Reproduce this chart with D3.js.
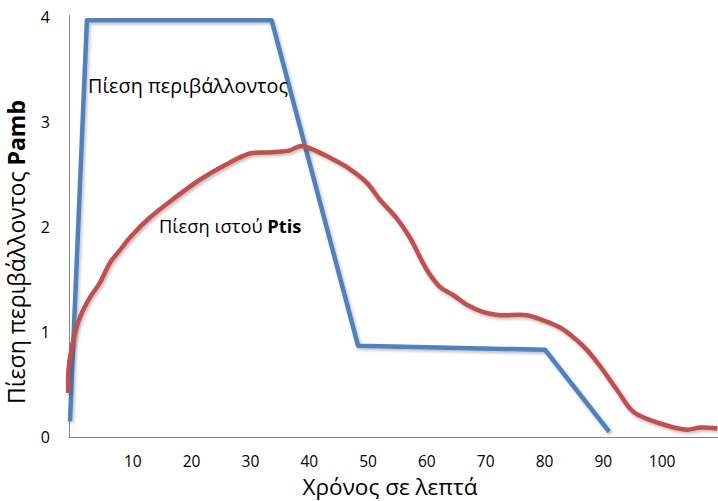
<!DOCTYPE html>
<html><head><meta charset="utf-8">
<script src="https://cdn.jsdelivr.net/npm/d3@7"></script>
<style>html,body{margin:0;padding:0;background:#fff;}svg{display:block;}</style>
</head><body>
<svg id="c" width="718" height="501"></svg>
<script>
// Ambient pressure (blue)
const ambTime = [-0.68, 2.2, 33.6, 48.3, 80.1, 91.0];
const ambValue = [0.15, 3.97, 3.97, 0.87, 0.83, 0.05];
// Tissue pressure (red)
const tisTime = [-0.97, -0.93, -0.12, 1.02, 2.72, 4.42, 6.12, 7.82, 9.52, 12.9, 17.2, 21.4, 25.7, 29.9, 33.3, 36.7, 38.4, 40.1, 43.5, 46.4, 49.8, 52.0, 54.9, 57.1, 60.0, 62.2, 64.5, 66.8, 69.6, 72.4, 77.0, 79.8, 82.7, 84.9, 87.2, 89.5, 92.3, 95.1, 98.0, 101.4, 104.3, 106.5, 109.4];
const tisValue = [0.42, 0.64, 0.92, 1.14, 1.33, 1.47, 1.66, 1.78, 1.90, 2.09, 2.28, 2.45, 2.59, 2.70, 2.71, 2.73, 2.77, 2.75, 2.66, 2.57, 2.42, 2.26, 2.08, 1.90, 1.59, 1.43, 1.35, 1.26, 1.19, 1.16, 1.16, 1.11, 1.04, 0.95, 0.83, 0.67, 0.45, 0.24, 0.16, 0.10, 0.07, 0.09, 0.08];
const xTicks = [10, 20, 30, 40, 50, 60, 70, 80, 90, 100];
const yTicks = [0, 1, 2, 3, 4];
const xTitle = "Χρόνος σε λεπτά";
const yTitle = "Πίεση περιβάλλοντος ";
const yTitleBold = "Pamb";
const ambLabel = "Πίεση περιβάλλοντος";
const tisLabel = "Πίεση ιστού ";
const tisLabelBold = "Ptis";

const svg = d3.select("#c");
const font = "'Open Sans', 'Noto Sans', sans-serif";
const x = d3.scaleLinear().domain([-0.85, 109.5]).range([69, 718]);
const y = d3.scaleLinear().domain([0, 4]).range([437, 17]);

const defs = svg.append("defs");
const f = defs.append("filter").attr("id", "sh").attr("x", "-10%").attr("y", "-10%").attr("width", "120%").attr("height", "120%");
f.append("feDropShadow").attr("dx", 1.5).attr("dy", 2).attr("stdDeviation", 1.6).attr("flood-color", "#000").attr("flood-opacity", 0.25);

// axes lines
svg.append("line").attr("x1", 69.5).attr("x2", 69.5).attr("y1", 15).attr("y2", 437.5).attr("stroke", "#868686").attr("stroke-width", 1);
svg.append("line").attr("x1", 69).attr("x2", 718).attr("y1", 437.5).attr("y2", 437.5).attr("stroke", "#868686").attr("stroke-width", 1);

// y tick labels
svg.append("g").selectAll("text").data(yTicks).join("text")
  .attr("x", 50).attr("y", d => y(d) + 6)
  .attr("text-anchor", "end").attr("font-family", font).attr("font-size", 16).attr("fill", "#000")
  .text(d => d);
// x tick labels
svg.append("g").selectAll("text").data(xTicks).join("text")
  .attr("x", d => x(d)).attr("y", 467)
  .attr("text-anchor", "middle").attr("font-family", font).attr("font-size", 15.5).attr("fill", "#000")
  .text(d => d);

// titles
svg.append("text").attr("x", 390).attr("y", 495).attr("text-anchor", "middle")
  .attr("font-family", font).attr("font-size", 21.5).attr("textLength", 175).attr("lengthAdjust", "spacingAndGlyphs")
  .attr("fill", "#000").text(xTitle);
const yt = svg.append("text").attr("transform", "translate(25,252) rotate(-90)").attr("text-anchor", "middle")
  .attr("font-family", font).attr("font-size", 23).attr("fill", "#000");
yt.append("tspan").text(yTitle);
yt.append("tspan").attr("font-weight", "bold").text(yTitleBold);

// lines
const lineAmb = d3.line().x((d, i) => x(ambTime[i])).y((d, i) => y(ambValue[i]));
const lineTis = d3.line().x((d, i) => x(tisTime[i])).y((d, i) => y(tisValue[i])).curve(d3.curveCatmullRom.alpha(0.5));
svg.append("path").attr("d", lineAmb(ambTime)).attr("fill", "none").attr("stroke", "#4F81BD")
  .attr("stroke-width", 4.5).attr("stroke-linejoin", "round").attr("filter", "url(#sh)");
svg.append("path").attr("d", lineTis(tisTime)).attr("fill", "none").attr("stroke", "#C0504D")
  .attr("stroke-width", 4.5).attr("stroke-linejoin", "round").attr("filter", "url(#sh)");

// annotations
svg.append("text").attr("x", 88).attr("y", 93).attr("font-family", font).attr("font-size", 19.8).attr("fill", "#000").text(ambLabel);
const tl = svg.append("text").attr("x", 159).attr("y", 233).attr("font-family", font).attr("font-size", 18.3).attr("fill", "#000");
tl.append("tspan").text(tisLabel);
tl.append("tspan").attr("font-weight", "bold").text(tisLabelBold);
</script>
</body></html>
